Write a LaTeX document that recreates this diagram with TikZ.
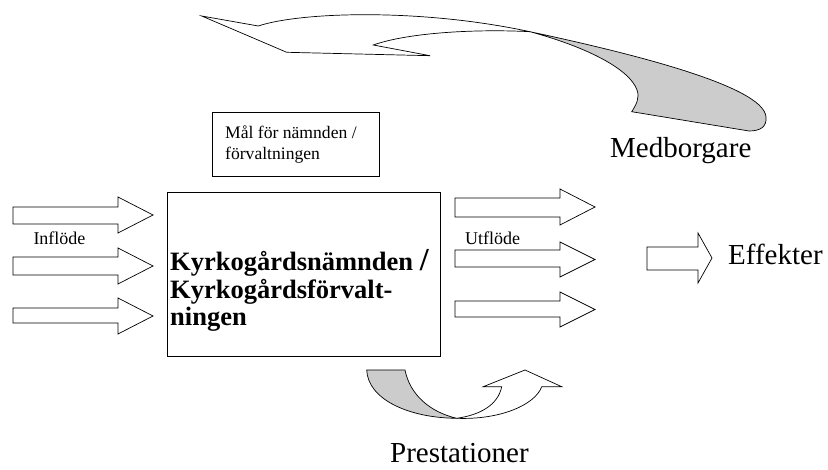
\documentclass[tikz,border=0pt]{standalone}
\usepackage{fontspec}
\setmainfont{Liberation Serif}
\begin{document}
\begin{tikzpicture}[x=1pt,y=-1pt,
  shapeline/.style={draw=black,line width=0.7pt,line join=miter},
  blockarr/.style={shapeline,fill=white},
  grayface/.style={shapeline,fill=black!20},
  whiteface/.style={shapeline,fill=white},
  lbl/.style={inner sep=0pt,anchor=base west},
  bigfont/.style={font=\fontsize{29}{34}\selectfont},
  midfont/.style={font=\fontsize{18}{21}\selectfont},
  boxfont/.style={font=\fontsize{17.6}{21}\selectfont},
  mainfont/.style={font=\bfseries\fontsize{26.5}{30}\selectfont},
  framebox/.style={draw=black,line width=0.7pt,inner sep=0pt,anchor=north west}]
\useasboundingbox (0,0) rectangle (828,470);
\newcommand\blkarr[7]{\draw[blockarr] (#1,#4) -- (#2,#4) -- (#2,#6) -- (#3,{(#6+#7)/2}) -- (#2,#7) -- (#2,#5) -- (#1,#5) -- cycle;}

% main box
\node[framebox,minimum width=273pt,minimum height=164pt] (kbox) at (167,192) {};
\node[lbl,mainfont] (k1) at (170,271) {Kyrkog\aa rdsn\"amnden {\fontsize{32}{34}\selectfont /}};
\node[lbl,mainfont] (k2) at (170,298.5) {Kyrkog\aa rdsf\"orvalt-};
\node[lbl,mainfont] (k3) at (170,326) {ningen};

% goal box
\node[framebox,minimum width=167pt,minimum height=64pt] (mbox) at (211.7,111.7) {};
\node[lbl,boxfont] (m1) at (225,138.3) {M\aa l f\"or n\"amnden /};
\node[lbl,boxfont] (m2) at (225,159.3) {f\"orvaltningen};

% inflow arrows
\blkarr{13}{118}{153}{207}{224}{197}{233}
\blkarr{13}{118}{153}{257}{275}{248}{284}
\blkarr{13}{118}{153}{308}{323}{298}{334}
\node[lbl,midfont] (infl) at (33.3,245) {Infl\"ode};

% outflow arrows
\blkarr{455}{560}{595}{198}{217}{189}{225}
\blkarr{455}{560}{595}{250}{267}{242}{277}
\blkarr{455}{560}{595}{301}{317}{292}{327}
\node[lbl,midfont] (utfl) at (465,245) {Utfl\"ode};

% effects arrow
\blkarr{647}{698}{712}{247}{270}{233}{283}
\node[lbl,bigfont] (eff) at (728,265) {Effekter};

% top feedback ribbon
\draw[whiteface] (201.7,16) -- (258.3,26)
  .. controls (300,12) and (420,8) .. (530,31.7)
  .. controls (480,29) and (410,32) .. (373.3,45)
  -- (430,55.7) -- (286.7,52.3) -- cycle;
\draw[grayface] (530,31.7)
  .. controls (620,51) and (764,85) .. (766,117)
  .. controls (767,127) and (760,131) .. (749,131)
  -- (631.7,111.7)
  .. controls (636,105) and (640,98) .. (637,90)
  .. controls (630,70) and (590,48) .. (530,31.7) -- cycle;
\node[lbl,bigfont] (med) at (610,157.3) {Medborgare};

% bottom ribbon
\draw[grayface] (366.7,370) -- (405,370)
  .. controls (410,395) and (430,412) .. (456.7,418.3)
  .. controls (410,418) and (368,400) .. (366.7,370) -- cycle;
\draw[whiteface] (456.7,418.3)
  .. controls (500,420) and (535,405) .. (541.7,386.7)
  -- (561.7,386.7) -- (525,370) -- (483.3,386.7) -- (501.7,386.7)
  .. controls (498,405) and (480,415) .. (456.7,418.3) -- cycle;
\node[lbl,bigfont] (pres) at (390,462) {Prestationer};
\end{tikzpicture}
\end{document}
